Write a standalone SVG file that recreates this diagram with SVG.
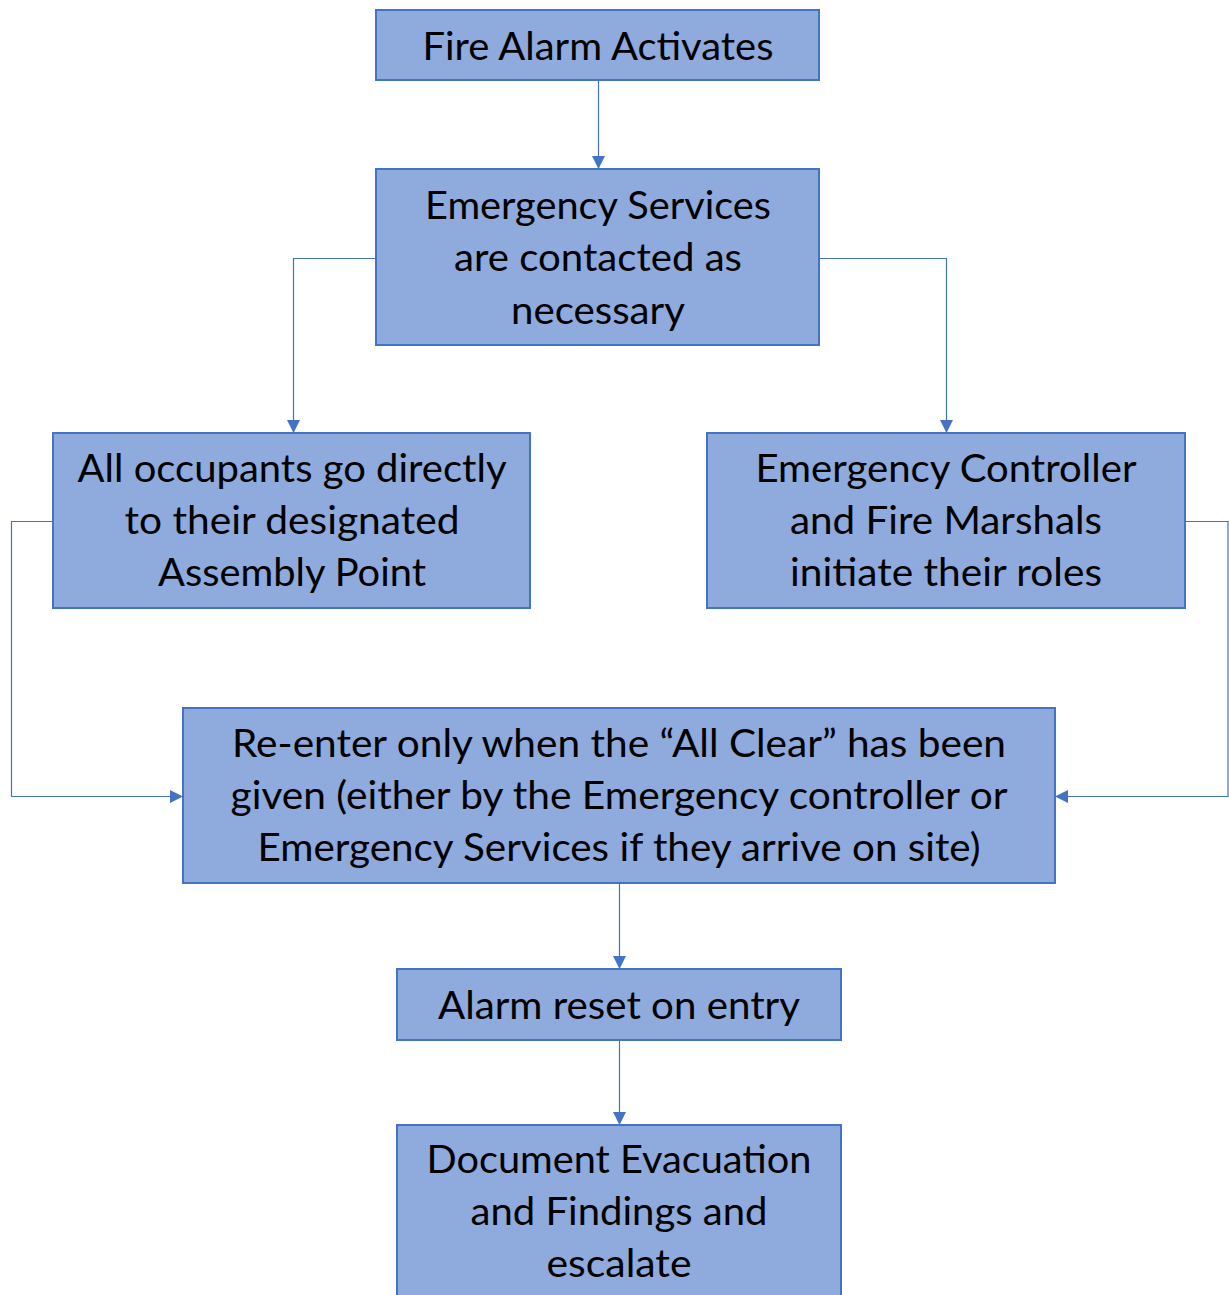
<svg xmlns="http://www.w3.org/2000/svg" width="1229" height="1295" viewBox="0 0 1229 1295">
<style>
.box{fill:#8FAADC;stroke:#4472C4;stroke-width:2}
.lbl{font-family:Lato,"Open Sans","Liberation Sans",sans-serif;font-size:39px;fill:#000;text-anchor:middle}
.con{fill:none;stroke:#4472C4;stroke-width:1.2}
</style>
<defs>
<marker id="ah" viewBox="0 0 10 10" refX="10" refY="5" markerWidth="13" markerHeight="13" markerUnits="userSpaceOnUse" orient="auto">
<path d="M0,0 L10,5 L0,10 Z" fill="#4472C4"/>
</marker>
</defs>
<rect width="1229" height="1295" fill="#fff"/>
<g id="connectors">
<path class="con" d="M598.5,80 V169" marker-end="url(#ah)"/>
<path class="con" d="M376,258.5 H293.5 V433" marker-end="url(#ah)"/>
<path class="con" d="M819,258.5 H946.5 V433" marker-end="url(#ah)"/>
<path class="con" d="M53,521.5 H11.5 V796.5 H183" marker-end="url(#ah)"/>
<path class="con" d="M1185,521.5 H1228 V796.5 H1055" marker-end="url(#ah)"/>
<path class="con" d="M619.5,883 V969" marker-end="url(#ah)"/>
<path class="con" d="M619.5,1040 V1125" marker-end="url(#ah)"/>
</g>
<g id="n1">
<rect class="box" x="376" y="10" width="443" height="70"/>
<text class="lbl" x="598" y="60" textLength="351" lengthAdjust="spacingAndGlyphs">Fire Alarm Activates</text>
</g>
<g id="n2">
<rect class="box" x="376" y="169" width="443" height="176"/>
<text class="lbl" x="598" y="219" textLength="346" lengthAdjust="spacingAndGlyphs">Emergency Services</text>
<text class="lbl" x="598" y="271" textLength="288" lengthAdjust="spacingAndGlyphs">are contacted as</text>
<text class="lbl" x="598" y="324" textLength="174" lengthAdjust="spacingAndGlyphs">necessary</text>
</g>
<g id="n3">
<rect class="box" x="53" y="433" width="477" height="175"/>
<text class="lbl" x="292" y="482" textLength="429" lengthAdjust="spacingAndGlyphs">All occupants go directly</text>
<text class="lbl" x="292" y="534" textLength="335" lengthAdjust="spacingAndGlyphs">to their designated</text>
<text class="lbl" x="292" y="586" textLength="268" lengthAdjust="spacingAndGlyphs">Assembly Point</text>
</g>
<g id="n4">
<rect class="box" x="707" y="433" width="478" height="175"/>
<text class="lbl" x="946" y="482" textLength="381" lengthAdjust="spacingAndGlyphs">Emergency Controller</text>
<text class="lbl" x="946" y="534" textLength="312" lengthAdjust="spacingAndGlyphs">and Fire Marshals</text>
<text class="lbl" x="946" y="586" textLength="312" lengthAdjust="spacingAndGlyphs">initiate their roles</text>
</g>
<g id="n5">
<rect class="box" x="183" y="708" width="872" height="175"/>
<text class="lbl" x="619" y="757" textLength="774" lengthAdjust="spacingAndGlyphs">Re-enter only when the “All Clear” has been</text>
<text class="lbl" x="619" y="809" textLength="777" lengthAdjust="spacingAndGlyphs">given (either by the Emergency controller or</text>
<text class="lbl" x="619" y="861" textLength="723" lengthAdjust="spacingAndGlyphs">Emergency Services if they arrive on site)</text>
</g>
<g id="n6">
<rect class="box" x="397" y="969" width="444" height="71"/>
<text class="lbl" x="619" y="1019" textLength="362" lengthAdjust="spacingAndGlyphs">Alarm reset on entry</text>
</g>
<g id="n7">
<rect class="box" x="397" y="1125" width="444" height="185"/>
<text class="lbl" x="619" y="1173" textLength="385" lengthAdjust="spacingAndGlyphs">Document Evacuation</text>
<text class="lbl" x="619" y="1225" textLength="297" lengthAdjust="spacingAndGlyphs">and Findings and</text>
<text class="lbl" x="619" y="1277" textLength="145" lengthAdjust="spacingAndGlyphs">escalate</text>
</g>
</svg>
